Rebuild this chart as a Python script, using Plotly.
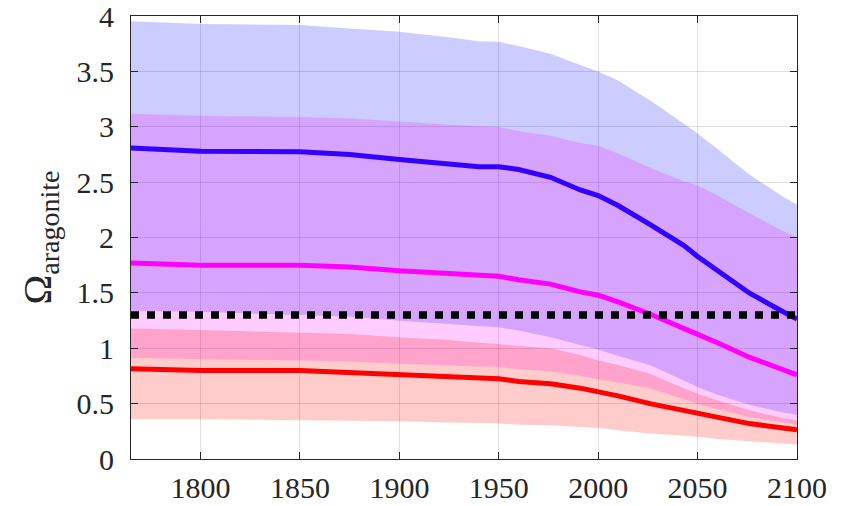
import plotly.graph_objects as go

# Years at which the ensemble statistics are sampled
years = [1765, 1800, 1850, 1875, 1900, 1925, 1940, 1950, 1960, 1976,
         1991, 2000, 2010, 2026, 2043, 2050, 2060, 2076, 2093, 2100]

# Blue scenario: mean and range
blue_mid = [2.81, 2.78, 2.775, 2.75, 2.705, 2.67, 2.64, 2.64, 2.615, 2.545,
            2.43, 2.38, 2.29, 2.12, 1.93, 1.83, 1.70, 1.50, 1.33, 1.265]
blue_hi = [3.955, 3.93, 3.92, 3.89, 3.86, 3.81, 3.775, 3.77, 3.73, 3.66,
           3.56, 3.50, 3.42, 3.24, 3.03, 2.94, 2.80, 2.57, 2.37, 2.30]
blue_lo = [1.34, 1.33, 1.30, 1.285, 1.25, 1.22, 1.20, 1.19, 1.16, 1.10,
           1.03, 0.99, 0.93, 0.85, 0.71, 0.65, 0.58, 0.49, 0.42, 0.40]

# Magenta scenario: mean and range
mag_mid = [1.77, 1.75, 1.75, 1.735, 1.70, 1.675, 1.66, 1.65, 1.62, 1.58,
           1.51, 1.48, 1.42, 1.31, 1.18, 1.13, 1.05, 0.92, 0.80, 0.76]
mag_hi = [3.12, 3.10, 3.09, 3.075, 3.05, 3.02, 3.005, 3.00, 2.96, 2.92,
          2.855, 2.83, 2.76, 2.63, 2.51, 2.47, 2.38, 2.22, 2.06, 2.00]
mag_lo = [0.915, 0.90, 0.89, 0.88, 0.86, 0.845, 0.835, 0.83, 0.81, 0.79,
          0.75, 0.72, 0.69, 0.64, 0.54, 0.50, 0.45, 0.38, 0.33, 0.31]

# Red scenario: mean and range
red_mid = [0.815, 0.80, 0.80, 0.78, 0.76, 0.745, 0.73, 0.725, 0.70, 0.68,
           0.64, 0.61, 0.57, 0.50, 0.44, 0.41, 0.37, 0.32, 0.28, 0.265]
red_hi = [1.18, 1.165, 1.14, 1.13, 1.10, 1.075, 1.05, 1.04, 1.02, 1.00,
          0.94, 0.89, 0.85, 0.77, 0.64, 0.59, 0.53, 0.44, 0.37, 0.35]
red_lo = [0.36, 0.36, 0.35, 0.345, 0.34, 0.33, 0.325, 0.32, 0.31, 0.305,
          0.29, 0.28, 0.26, 0.23, 0.21, 0.20, 0.18, 0.16, 0.14, 0.13]

threshold = 1.3
x_ticks = [1800, 1850, 1900, 1950, 2000, 2050, 2100]
y_ticks = [0, 0.5, 1, 1.5, 2, 2.5, 3, 3.5, 4]

series = [
    (blue_lo, blue_mid, blue_hi, "rgba(0,0,255,0.2)", "#3300ff"),
    (mag_lo, mag_mid, mag_hi, "rgba(255,0,255,0.2)", "#ff00ff"),
    (red_lo, red_mid, red_hi, "rgba(255,0,0,0.2)", "#ff0000"),
]

fig = go.Figure()

# Shaded ranges
for lo, mid, hi, fillc, linec in series:
    fig.add_trace(go.Scatter(
        x=years + years[::-1], y=hi + lo[::-1],
        fill="toself", fillcolor=fillc, mode="none",
        hoverinfo="skip", showlegend=False))

# Mean curves
for lo, mid, hi, fillc, linec in series:
    fig.add_trace(go.Scatter(
        x=years, y=mid, mode="lines",
        line=dict(color=linec, width=5),
        showlegend=False))

# Threshold line
fig.add_trace(go.Scatter(
    x=[years[0], years[-1]], y=[threshold, threshold], mode="lines",
    line=dict(color="black", width=7.5, dash="8px,8px"),
    showlegend=False))

font_family = "Times New Roman"
axis_col = "#262626"
grid_col = "rgba(38,38,38,0.15)"

fig.update_layout(
    width=845, height=506,
    margin=dict(l=131, r=48, t=16, b=47),
    paper_bgcolor="white", plot_bgcolor="white",
    font=dict(family=font_family, size=30, color=axis_col),
)
fig.update_xaxes(
    range=[1765, 2100], tickvals=x_ticks,
    showgrid=True, gridcolor=grid_col, gridwidth=1,
    showline=True, linecolor=axis_col, linewidth=1, mirror="allticks",
    ticks="inside", ticklen=7, tickcolor=axis_col, tickwidth=1.3,
    ticklabelstandoff=2, ticklabeloverflow="allow",
    zeroline=False, automargin=False,
    tickfont=dict(family=font_family, size=30, color=axis_col),
)
fig.update_yaxes(
    range=[0, 4.002], tickvals=y_ticks,
    showgrid=True, gridcolor=grid_col, gridwidth=1,
    showline=True, linecolor=axis_col, linewidth=1, mirror="allticks",
    ticks="inside", ticklen=7, tickcolor=axis_col, tickwidth=1.3,
    ticklabelstandoff=10, ticklabeloverflow="allow", zeroline=False,
    automargin=False,
    tickfont=dict(family=font_family, size=30, color=axis_col),
    title=dict(text="Ω<sub>aragonite</sub>",
               font=dict(family=font_family, size=40, color=axis_col),
               standoff=12),
)

fig.write_html("out.html")
